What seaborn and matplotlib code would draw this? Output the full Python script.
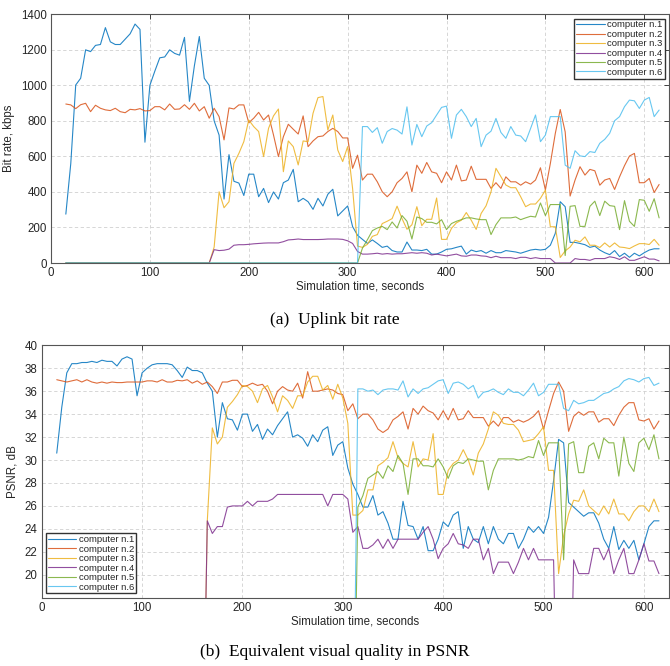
import numpy as np
import pandas as pd
import matplotlib
matplotlib.use("Agg")
import matplotlib.pyplot as plt
import seaborn as sns

# ---------------- data ----------------
time_s = list(range(15, 620, 5))  # 121 samples

labels = ["computer n.1", "computer n.2", "computer n.3",
          "computer n.4", "computer n.5", "computer n.6"]
colors = ["#0072BD", "#D95319", "#EDB120", "#7E2F8E", "#77AC30", "#4DBEEE"]

Z10 = [0] * 10

rate_c1 = [275, 560, 1002, 1040, 1200, 1190, 1225, 1230, 1325, 1245,
           1230, 1230, 1260, 1290, 1345, 1315, 680, 1000, 1080, 1155,
           1160, 1200, 1180, 1170, 1270, 910, 1110, 1275, 1040, 1000,
           800, 720, 360, 610, 460, 450, 380, 500, 500, 373,
           420, 340, 400, 360, 452, 467, 527, 345, 364, 345,
           302, 364, 321, 387, 415, 265, 293, 321, 205, 156,
           133, 110, 130, 110, 88, 95, 70, 62, 62, 118,
           73, 73, 70, 77, 50, 50, 62, 77, 80, 88,
           95, 50, 73, 64, 70, 55, 70, 58, 58, 70,
           66, 62, 55, 64, 73, 77, 73, 77, 100, 167,
           345, 317, 116, 116, 110, 103, 88, 95, 73, 58,
           47, 70, 36, 55, 32, 55, 40, 58, 73, 80,
           80]
rate_c2 = [895, 890, 869, 891, 899, 852, 888, 871, 862, 858,
           871, 852, 846, 865, 862, 869, 856, 858, 880, 880,
           862, 895, 865, 867, 891, 865, 899, 856, 880, 815,
           871, 824, 693, 873, 867, 890, 890, 790, 815, 848,
           805, 833, 721, 599, 711, 781, 753, 726, 828, 655,
           687, 711, 715, 740, 758, 740, 704, 704, 533, 607,
           467, 500, 500, 457, 401, 373, 401, 452, 476, 513,
           401, 551, 505, 566, 513, 505, 452, 513, 467, 551,
           462, 467, 545, 471, 471, 471, 420, 452, 420, 485,
           457, 457, 438, 457, 444, 467, 536, 411, 560, 729,
           864, 738, 377, 467, 542, 495, 527, 519, 438, 467,
           476, 414, 485, 548, 602, 617, 452, 452, 476, 397,
           442]
rate_c3 = Z10 * 3 + [
           90, 401, 311, 345, 561, 617, 683, 805, 768, 740,
           599, 758, 828, 867, 514, 687, 655, 552, 687, 683,
           843, 931, 937, 749, 833, 636, 571, 655, 420, 95,
           88, 105, 150, 160, 222, 235, 250, 320, 250, 190,
           215, 317, 210, 246, 246, 366, 133, 133, 195, 226,
           241, 284, 241, 189, 279, 322, 401, 533, 486, 439,
           424, 424, 373, 317, 332, 332, 364, 411, 204, 204,
           31, 68, 90, 128, 119, 147, 100, 100, 87, 113,
           90, 113, 90, 87, 81, 96, 109, 109, 104, 133,
           100]
rate_c4 = Z10 * 3 + [
           75, 70, 72, 78, 100, 103, 103, 105, 108, 110,
           112, 113, 113, 113, 120, 130, 132, 135, 132, 132,
           132, 132, 133, 135, 135, 135, 133, 125, 110, 65,
           50, 50, 52, 55, 50, 53, 50, 52, 52, 55,
           58, 55, 58, 55, 45, 50, 45, 40, 45, 50,
           40, 38, 45, 45, 40, 38, 30, 38, 30, 30,
           30, 25, 32, 32, 25, 30, 25, 25, 25, 0,
           0, 0, 0, 25, 20, 20, 15, 25, 25, 25,
           35, 30, 20, 35, 15, 15, 25, 35, 22, 22,
           12]
rate_c5 = Z10 * 6 + [
           84, 131, 182, 197, 206, 188, 231, 197, 267, 235,
           135, 259, 250, 229, 229, 220, 244, 188, 222, 235,
           244, 254, 254, 248, 244, 244, 160, 216, 254, 254,
           254, 259, 244, 254, 263, 259, 338, 267, 329, 329,
           329, 42, 319, 323, 206, 206, 319, 348, 267, 348,
           323, 319, 188, 351, 235, 206, 357, 353, 291, 362,
           254]
rate_c6 = Z10 * 6 + [
           768, 768, 735, 762, 674, 740, 757, 748, 726, 879,
           664, 780, 711, 771, 790, 833, 876, 883, 702, 833,
           865, 824, 768, 814, 655, 720, 742, 814, 735, 702,
           768, 720, 715, 683, 757, 833, 683, 720, 824, 824,
           824, 551, 533, 632, 603, 599, 627, 622, 674, 696,
           730, 801, 824, 880, 917, 913, 870, 917, 932, 824,
           861]

psnr_c1 = [30.6, 34.6, 37.6, 38.4, 38.4, 38.5, 38.5, 38.6, 38.5, 38.7,
           38.6, 38.6, 38.2, 38.8, 39.0, 38.8, 35.6, 37.6, 38.0, 38.3,
           38.4, 38.4, 38.4, 38.3, 37.8, 37.2, 38.1, 37.8, 37.8, 37.6,
           36.7, 36.0, 32.0, 35.0, 33.6, 33.5, 32.6, 34.0, 34.0, 32.5,
           33.1, 31.8, 32.7, 32.2, 33.0, 33.6, 34.2, 32.0, 32.2, 31.9,
           31.2, 32.2, 31.6, 32.6, 32.9, 30.4, 31.3, 31.6, 29.3, 27.9,
           27.0, 25.9, 25.9, 26.9, 25.2, 25.5, 24.5, 23.1, 23.1, 26.4,
           24.3, 24.2, 23.1, 24.2, 22.1, 22.1, 23.1, 24.6, 24.2, 25.2,
           25.5, 22.3, 24.2, 23.1, 22.8, 24.2, 22.7, 24.2, 23.1, 22.7,
           23.6, 23.6, 22.3, 23.1, 24.2, 23.7, 24.2, 23.6, 25.0, 28.2,
           31.8, 31.5, 26.3, 25.9, 25.5, 25.1, 25.4, 25.4, 24.5, 23.1,
           22.3, 24.2, 22.2, 23.0, 22.3, 23.0, 21.3, 22.7, 24.2, 24.7,
           24.7]
psnr_c2 = [37.0, 36.9, 36.8, 36.9, 37.0, 36.8, 37.0, 36.8, 36.7, 36.8,
           36.7, 36.8, 36.75, 36.75, 36.8, 36.8, 36.8, 36.8, 36.9, 36.9,
           36.8, 37.0, 36.8, 36.8, 36.95, 36.9, 37.0, 36.7, 36.9, 36.6,
           36.8, 36.4, 35.8, 36.8, 36.8, 36.95, 36.95, 36.4, 36.5, 36.7,
           36.5, 36.6, 36.0, 34.9, 36.0, 36.4, 36.1, 36.0, 36.7, 35.4,
           37.7, 36.0, 36.0, 36.1, 36.2, 36.1, 35.8, 35.7, 34.3, 34.9,
           33.6, 34.0, 34.0, 33.5, 32.7, 32.4, 32.7, 33.5, 33.8, 34.2,
           32.7, 34.5, 34.0, 34.7, 34.3, 34.1, 33.5, 34.3, 33.5, 34.5,
           33.5, 33.6, 34.3, 33.7, 33.7, 33.7, 32.95, 33.4, 32.95, 33.7,
           33.7, 33.3, 33.5, 33.3, 33.5, 33.8, 34.3, 32.7, 34.3, 35.8,
           36.8, 36.0, 32.5, 33.8, 34.2, 33.9, 34.2, 34.2, 33.3, 33.6,
           33.6, 33.0, 33.9, 34.6, 35.0, 35.0, 33.5, 33.4, 33.6, 32.7,
           33.4]
psnr_c3 = Z10 * 3 + [
           24.7, 32.8, 31.4, 32.0, 34.6, 35.1, 35.7, 36.5, 36.4, 36.0,
           35.0, 36.2, 36.5, 35.5, 34.2, 35.6, 35.2, 34.5, 35.6, 35.6,
           36.8, 37.3, 37.3, 36.1, 36.5, 35.3, 36.6, 35.4, 33.2, 25.2,
           25.2, 25.6, 27.4, 27.4, 29.5, 29.8, 30.2, 31.6, 30.2, 29.7,
           29.4, 31.6, 29.4, 30.1, 30.0, 32.3, 27.0, 27.0, 29.1, 29.7,
           30.0, 30.9, 30.0, 28.7, 30.6, 31.4, 32.7, 34.2, 33.9, 33.2,
           33.1, 33.1, 32.6, 31.6, 31.7, 31.8, 32.3, 32.9, 29.1, 29.1,
           20.1, 23.4, 25.3, 26.5, 26.4, 27.4, 26.0, 25.6, 25.2, 26.0,
           25.3, 26.6, 25.3, 25.3, 24.7, 25.5, 26.0, 26.0, 25.5, 26.6,
           25.5]
psnr_c4 = Z10 * 3 + [
           24.7, 23.6, 24.2, 24.2, 25.9, 26.0, 26.0, 26.0, 26.4, 26.0,
           26.4, 26.4, 26.4, 26.6, 27.0, 27.0, 27.0, 27.0, 27.0, 27.0,
           27.0, 27.0, 27.0, 27.0, 26.0, 27.0, 27.0, 27.0, 26.6, 23.7,
           24.2, 22.3, 22.3, 22.6, 23.1, 22.3, 23.1, 22.3, 23.1, 23.1,
           23.1, 23.1, 23.1, 23.7, 24.2, 23.1, 21.4, 22.3, 22.7, 23.6,
           22.7, 22.6, 22.3, 23.1, 23.1, 21.3, 22.3, 20.1, 21.1, 21.1,
           21.1, 20.1, 21.1, 22.3, 21.3, 22.3, 21.3, 21.3, 21.3, 21.3,
           0, 0, 0, 21.3, 20.1, 20.1, 20.1, 22.3, 22.3, 21.3,
           22.3, 20.1, 21.3, 22.3, 20.1, 20.1, 21.3, 22.7, 21.2, 21.2,
           20.1]
psnr_c5 = Z10 * 6 + [
           25.9, 26.9, 28.4, 28.7, 29.0, 28.4, 29.5, 29.0, 30.4, 29.7,
           27.0, 30.1, 30.1, 29.5, 29.5, 29.4, 30.1, 29.4, 28.4, 29.5,
           29.8, 29.7, 30.1, 30.0, 29.9, 29.9, 27.4, 29.1, 30.1, 30.1,
           30.1, 30.1, 30.0, 30.1, 30.3, 30.2, 31.7, 30.4, 31.5, 31.5,
           31.5, 21.3, 31.4, 31.6, 28.9, 28.9, 31.2, 31.5, 30.1, 31.9,
           31.5, 31.5, 28.6, 32.0, 29.7, 29.0, 31.5, 31.9, 30.9, 32.2,
           30.1]
psnr_c6 = Z10 * 6 + [
           36.2, 36.2, 36.0, 36.1, 35.7, 36.1, 36.2, 36.2, 36.1, 36.9,
           35.5, 36.2, 35.8, 36.2, 36.3, 36.6, 36.9, 37.0, 35.8, 36.7,
           36.8, 36.6, 36.2, 36.5, 35.4, 35.9, 36.0, 36.2, 35.9, 35.7,
           36.2, 35.9, 35.9, 35.6, 36.1, 36.7, 35.6, 35.9, 36.6, 36.6,
           36.6, 34.5, 34.3, 35.2, 34.9, 35.0, 35.2, 35.2, 35.5, 35.8,
           35.9, 36.2, 36.4, 36.9, 37.1, 37.0, 36.8, 37.1, 37.2, 36.5,
           36.7]

rate_series = [rate_c1, rate_c2, rate_c3, rate_c4, rate_c5, rate_c6]
psnr_series = [psnr_c1, psnr_c2, psnr_c3, psnr_c4, psnr_c5, psnr_c6]


def long_frame(series):
    rows = []
    for lab, vals in zip(labels, series):
        rows.append(pd.DataFrame({"t": time_s, "v": vals, "who": lab}))
    return pd.concat(rows, ignore_index=True)


df_rate = long_frame(rate_series)
df_psnr = long_frame(psnr_series)

# ---------------- style ----------------
sns.set_style("white")
plt.rcParams["font.family"] = ["Liberation Sans", "DejaVu Sans"]
plt.rcParams["font.size"] = 8
plt.rcParams["axes.edgecolor"] = "#555555"
plt.rcParams["axes.linewidth"] = 0.8
plt.rcParams["text.color"] = "#262626"
plt.rcParams["axes.labelcolor"] = "#262626"
plt.rcParams["xtick.color"] = "#262626"
plt.rcParams["ytick.color"] = "#262626"

fig = plt.figure(figsize=(6.70, 6.66), dpi=100)
W, H = 670.0, 666.0
ax1 = fig.add_axes([51 / W, 1 - 263 / H, (669 - 51) / W, (263 - 14.3) / H])
ax2 = fig.add_axes([41.7 / W, 1 - 597.7 / H, (669 - 41.7) / W, (597.7 - 345.3) / H])

palette = dict(zip(labels, colors))


def style_axes(ax):
    ax.grid(True, linestyle=(0, (4, 3)), color="#d0d0d0", linewidth=0.6)
    ax.set_axisbelow(True)
    ax.tick_params(direction="in", top=True, right=True, length=3.5,
                   width=0.6, labelsize=8.3, pad=3)
    for s in ax.spines.values():
        s.set_visible(True)
        s.set_color("#555555")


line_kw = dict(errorbar=None, linewidth=0.8, alpha=0.85, sort=True)

sns.lineplot(data=df_rate, x="t", y="v", hue="who", hue_order=labels,
             palette=palette, ax=ax1, **line_kw)
ax1.set_xlim(0, 625)
ax1.set_ylim(0, 1400)
ax1.set_xticks(range(0, 601, 100))
ax1.set_yticks(range(0, 1401, 200))
ax1.set_xlabel("Simulation time, seconds", labelpad=1, fontsize=8.3)
ax1.set_ylabel("Bit rate, kbps", labelpad=4, fontsize=8.3)
style_axes(ax1)
h, l = ax1.get_legend_handles_labels()
ax1.legend(h, l, loc="upper right", fontsize=6.8, frameon=True,
           fancybox=False, edgecolor="#333333", framealpha=1,
           borderpad=0.2, handlelength=3.0, labelspacing=0.05,
           handletextpad=0.3, borderaxespad=0.45)

sns.lineplot(data=df_psnr, x="t", y="v", hue="who", hue_order=labels,
             palette=palette, ax=ax2, **line_kw)
ax2.set_xlim(0, 625)
ax2.set_ylim(18, 40)
ax2.set_xticks(range(0, 601, 100))
ax2.set_yticks(range(20, 41, 2))
ax2.set_xlabel("Simulation time, seconds", labelpad=1, fontsize=8.3)
ax2.set_ylabel("PSNR, dB", labelpad=4, fontsize=8.3)
style_axes(ax2)
h, l = ax2.get_legend_handles_labels()
ax2.legend(h, l, loc="lower left", fontsize=6.8, frameon=True,
           fancybox=False, edgecolor="#333333", framealpha=1,
           borderpad=0.2, handlelength=3.0, labelspacing=0.05,
           handletextpad=0.3, borderaxespad=0.45)

fig.text(0.5, 1 - 320 / H, "(a)  Uplink bit rate", ha="center", va="center",
         family=["Liberation Serif", "DejaVu Serif"], fontsize=12.5, color="black")
fig.text(0.5, 1 - 652 / H, "(b)  Equivalent visual quality in PSNR", ha="center",
         va="center", family=["Liberation Serif", "DejaVu Serif"], fontsize=12.5,
         color="black")

fig.savefig("out.png", dpi=100)
